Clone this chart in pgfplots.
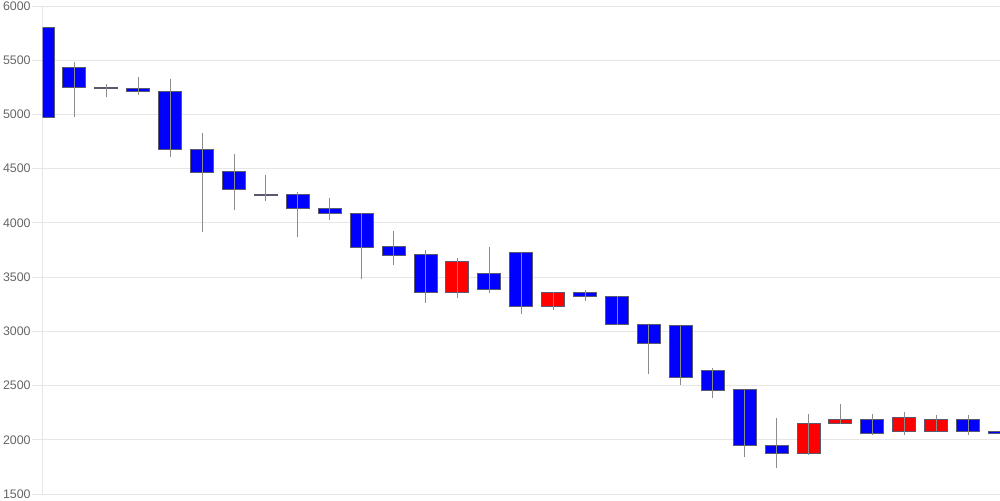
\documentclass[border=0pt]{standalone}
\usepackage{pgfplots}
\usepackage{pgfplotstable}
\pgfplotsset{compat=1.18}
\usepackage{fontspec}
\setmainfont{Liberation Sans}
\definecolor{gridc}{HTML}{E6E6E6}
\definecolor{labc}{HTML}{666666}
\definecolor{wickc}{HTML}{8C8C8C}
\definecolor{edgec}{HTML}{5A5A6E}
% x: position, b: body bottom, hb: blue body height, hr: red body height, h: high, l: low
\pgfplotstableread{
x  b     hb   hr   h     l
0  4975  825  0    5800  4975
1  5248  187  0    5484  4979
2  5237  13   0    5281  5161
3  5213  22   0    5343  5182
4  4679  537  0    5324  4611
5  4469  212  0    4832  3919
6  4310  162  0    4633  4119
7  4252  0    10   4444  4199
8  4131  133  0    4282  3873
9  4089  46   0    4233  4027
10 3771  320  0    4091  3480
11 3698  80   0    3925  3609
12 3356  348  0    3750  3261
13 3356  0    290  3673  3311
14 3388  147  0    3781  3351
15 3231  492  0    3725  3163
16 3231  0    123  3363  3200
17 3320  34   0    3381  3283
18 3061  262  0    3323  3061
19 2890  171  0    3061  2610
20 2573  479  0    3052  2508
21 2459  182  0    2662  2388
22 1949  513  0    2462  1841
23 1872  77   0    2198  1743
24 1872  0    280  2238  1863
25 2152  0    37   2330  2143
26 2060  129  0    2241  2041
27 2081  0    129  2254  2041
28 2081  0    108  2231  2081
29 2081  108  0    2231  2041
30 2060  21   0    2090  1992
}\candles
\begin{document}
\begin{tikzpicture}
\useasboundingbox (-21.25pt,-3pt) rectangle (478.75pt,247pt);
\begin{axis}[
  at={(0pt,0pt)}, anchor=south west,
  scale only axis, width=478.75pt, height=244pt,
  xmin=0, xmax=30, ymin=1500, ymax=6000,
  ybar stacked, bar width=11.5pt,
  ytick={1500,2000,...,6000},
  xtick=\empty,
  separate axis lines,
  axis x line=none,
  axis y line*=left,
  y axis line style={gridc, line width=0.5pt, -},
  ymajorgrids,
  grid style={gridc, line width=0.5pt},
  tick align=outside,
  major tick length=5pt,
  ytick style={gridc, line width=0.5pt},
  yticklabel style={font=\fontsize{6.2}{7}\selectfont, text=labc, xshift=2.6pt},
  /pgf/number format/assume math mode=true,
  /pgf/number format/1000 sep={},
]
\addplot[draw=none, fill=none,
  error bars/.cd, y dir=both, y explicit, error mark=none,
  error bar style={draw=wickc, line width=0.5pt}]
  table[x=x, y=b, y error plus expr=\thisrow{h}-\thisrow{b}, y error minus expr=\thisrow{b}-\thisrow{l}] {\candles};
\addplot[fill=blue, draw=edgec, line width=0.5pt] table[x=x, y=hb] {\candles};
\addplot[fill=red, draw=edgec, line width=0.5pt] table[x=x, y=hr] {\candles};
\end{axis}
\end{tikzpicture}
\end{document}
